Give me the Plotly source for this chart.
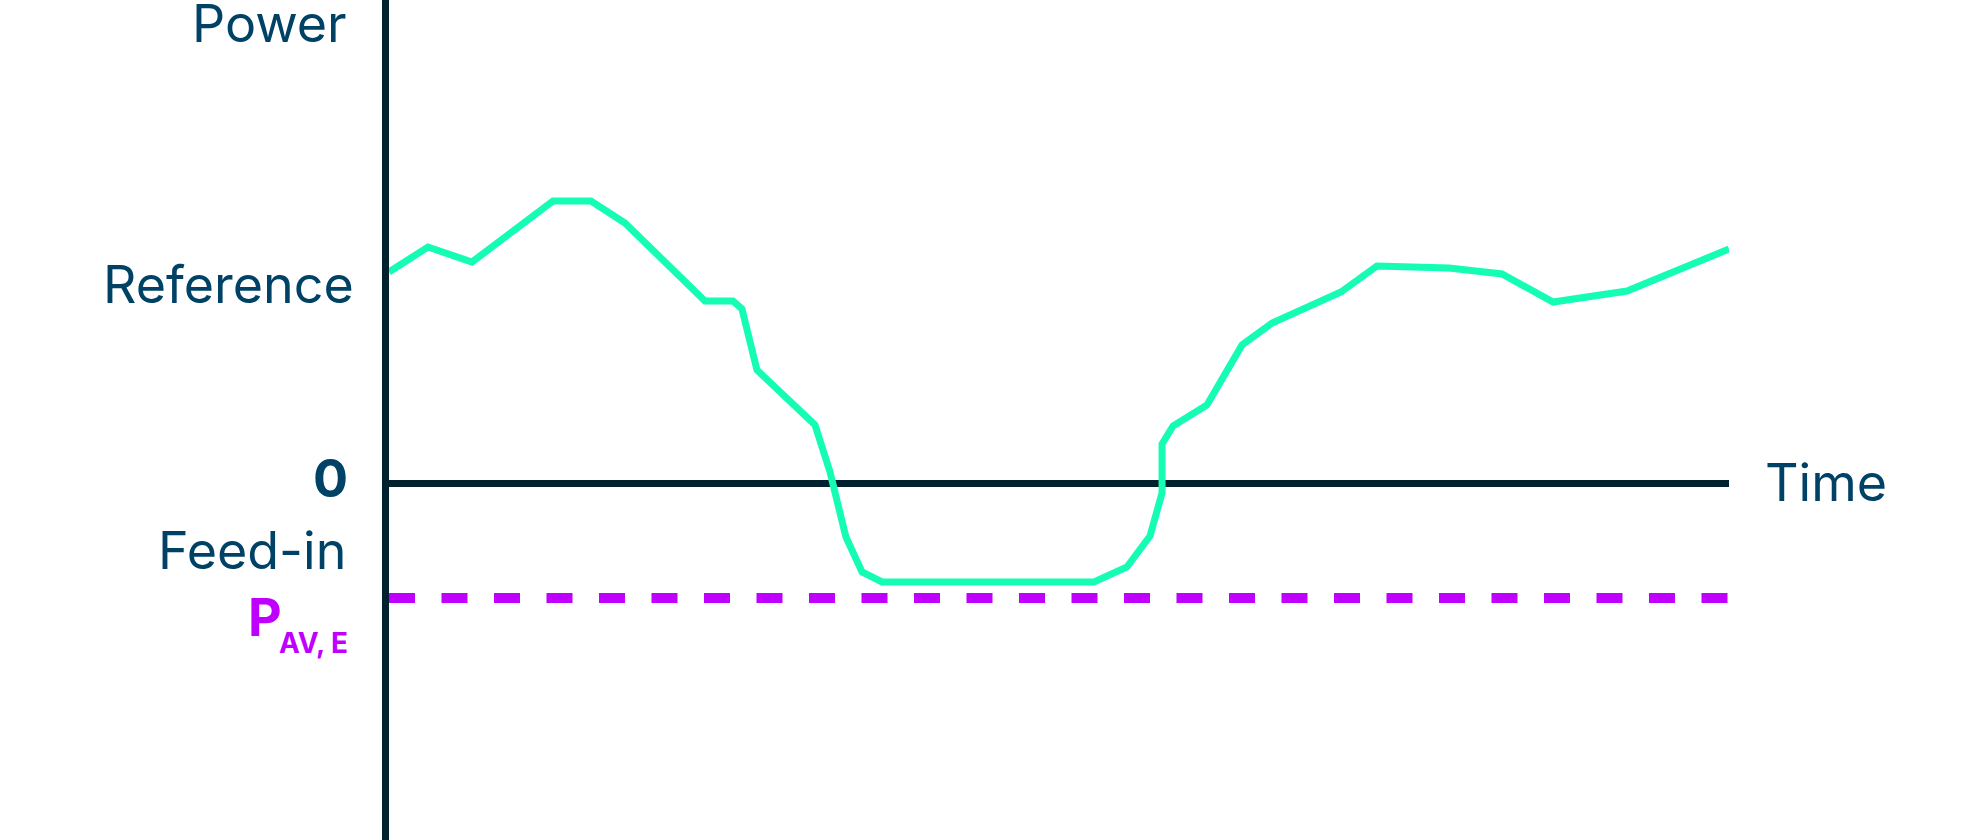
import plotly.graph_objects as go

# ---- data (arbitrary units: time 0..100, power with 0 = grid boundary) ----
time = [0, 2.91, 6.19, 12.24, 15.07, 17.61, 23.58, 25.67, 26.34, 27.46, 31.79, 32.91,
        34.10, 35.30, 36.79, 52.61, 55.07, 56.79, 57.69, 57.69, 58.51, 61.04, 63.66,
        65.90, 71.04, 73.73, 79.10, 83.06, 86.87, 92.39, 100]
power = [2.115, 2.365, 2.215, 2.825, 2.825, 2.605, 1.825, 1.825, 1.745, 1.135, 0.585, 0.115,
         -0.535, -0.885, -0.985, -0.985, -0.835, -0.525, -0.095, 0.395, 0.575, 0.785, 1.385,
         1.605, 1.915, 2.175, 2.155, 2.095, 1.815, 1.925, 2.345]
feed_in_limit_time = [0, 100]
feed_in_limit = [-1.145, -1.145]

y_labels = ["Power", "Reference", "0", "Feed-in"]
x_label = "Time"

# ---- styling ----
W, H = 1982, 840
L_PX, R_PX = 389, 1729
TEXT = "#004166"
AXIS = "#00222f"
GREEN = "#15fdb4"
PURPLE = "#bf00ff"
FONT = "Inter"


def px(x):
    return (x - L_PX) / (R_PX - L_PX)


def py(y):
    return 1 - y / H


fig = go.Figure()
fig.add_trace(go.Scatter(x=feed_in_limit_time, y=feed_in_limit, mode="lines",
                         line=dict(color=PURPLE, width=10, dash="26px,26.5px"),
                         hoverinfo="skip", showlegend=False))
fig.add_trace(go.Scatter(x=time, y=power, mode="lines",
                         line=dict(color=GREEN, width=7),
                         hoverinfo="skip", showlegend=False))

shapes = [
    dict(type="line", xref="paper", yref="paper", x0=px(385.5), x1=px(385.5), y0=0, y1=1,
         line=dict(color=AXIS, width=7), layer="below"),
    dict(type="line", xref="paper", yref="y", x0=0, x1=1, y0=0, y1=0,
         line=dict(color=AXIS, width=7), layer="below"),
]

ann = []
label_pos = [(349, 23, False), (356, 284, False), (350, 478.5, True), (348, 550, False)]
for text, (xr, yc, bold) in zip(y_labels, label_pos):
    ann.append(dict(text=f"<b>{text}</b>" if bold else text, xref="paper", yref="paper",
                    x=px(xr), y=py(yc), xanchor="right", yanchor="middle", showarrow=False,
                    font=dict(family=FONT, size=52, color=TEXT)))
ann.append(dict(text="<b>P</b>", xref="paper", yref="paper", x=px(246), y=py(617),
                xanchor="left", yanchor="middle", showarrow=False,
                font=dict(family=FONT, size=52, color=PURPLE)))
ann.append(dict(text="<b>AV, E</b>", xref="paper", yref="paper", x=px(350), y=py(643),
                xanchor="right", yanchor="middle", showarrow=False,
                font=dict(family=FONT, size=28, color=PURPLE)))
ann.append(dict(text=x_label, xref="paper", yref="paper", x=px(1763), y=py(483),
                xanchor="left", yanchor="middle", showarrow=False,
                font=dict(family=FONT, size=52, color=TEXT)))

fig.update_layout(
    width=W, height=H,
    margin=dict(l=L_PX, r=W - R_PX, t=0, b=0, pad=0),
    paper_bgcolor="white", plot_bgcolor="white",
    xaxis=dict(range=[0, 100], visible=False, fixedrange=True),
    yaxis=dict(range=[(483.5 - H) / 100, 483.5 / 100], visible=False, fixedrange=True),
    shapes=shapes, annotations=ann, showlegend=False,
)

fig.write_html("out.html", config={"displayModeBar": False},
               post_script="document.body.style.margin='0';document.body.style.overflow='hidden';")
